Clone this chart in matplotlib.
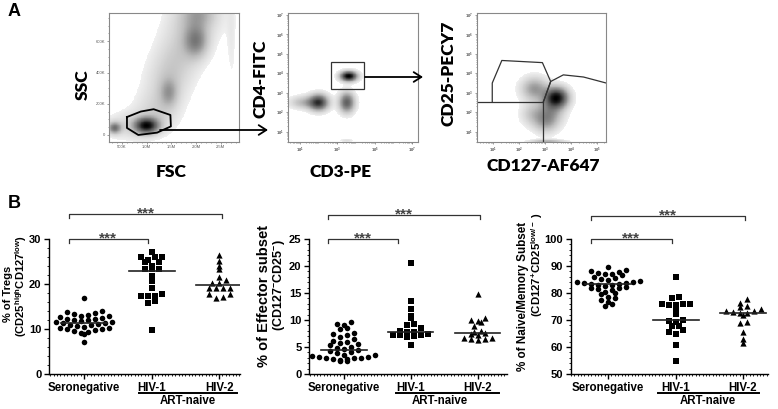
import numpy as np
import matplotlib
matplotlib.use("Agg")
import matplotlib.pyplot as plt
from matplotlib.ticker import FixedLocator, MultipleLocator, NullFormatter, LogLocator
from matplotlib.patches import Rectangle, FancyArrowPatch

plt.rcParams["font.family"] = ["Liberation Sans", "DejaVu Sans"]
plt.rcParams["mathtext.fontset"] = "custom"
plt.rcParams["mathtext.rm"] = "Liberation Sans:bold"
plt.rcParams["mathtext.bf"] = "Liberation Sans:bold"
plt.rcParams["mathtext.it"] = "Liberation Sans:bold"

# ------------------------------------------------------------------ data
groups = ["Seronegative", "HIV-1", "HIV-2"]

tregs_sero = [16.8, 14.0, 13.8, 13.5, 13.3, 13.2, 13.0, 12.8, 12.7, 12.5, 12.3, 12.2,
              12.0, 11.9, 11.8, 11.6, 11.5, 11.4, 11.3, 11.2, 11.0, 10.9, 10.7, 10.5,
              10.3, 10.2, 10.0, 9.9, 9.7, 9.5, 9.3, 9.2, 8.8, 7.2]
tregs_hiv1 = [27.1, 26.0, 25.9, 25.9, 25.3, 24.9, 24.9, 24.1, 23.4, 23.4, 23.4, 21.7,
              20.6, 19.2, 17.7, 17.4, 17.4, 17.4, 16.2, 15.7, 9.8]
tregs_hiv2 = [26.4, 25.1, 24.0, 23.4, 21.5, 20.8, 20.2, 20.2, 19.2, 19.1, 19.1, 19.1,
              17.7, 17.7, 17.1, 16.8]
tregs_median = [11.4, 22.9, 19.7]

eff_sero = [9.6, 9.2, 9.0, 8.5, 8.3, 7.6, 7.5, 7.2, 6.8, 6.5, 6.2, 6.0, 5.8, 5.5, 5.3,
            5.0, 4.8, 4.6, 4.5, 4.3, 4.0, 3.8, 3.6, 3.5, 3.4, 3.2, 3.1, 3.0, 3.0, 2.9,
            2.8, 2.7, 2.6, 2.5, 2.4]
eff_hiv1 = [20.5, 13.5, 12.0, 10.7, 10.3, 9.2, 9.1, 8.6, 8.0, 7.8, 7.8, 7.5, 7.2, 7.2,
            7.2, 7.0, 6.8, 5.4]
eff_hiv2 = [14.8, 10.4, 10.0, 9.8, 9.6, 8.8, 8.0, 7.7, 7.6, 7.5, 7.3, 6.6, 6.6, 6.5,
            6.4, 6.3]
eff_median = [4.5, 7.8, 7.65]

nm_sero = [89.5, 88.5, 88.0, 87.8, 87.5, 87.2, 87.0, 86.5, 86.0, 85.5, 85.2, 85.0,
           84.5, 84.2, 84.0, 83.8, 83.6, 83.5, 83.3, 83.0, 82.8, 82.5, 82.2, 82.0,
           81.8, 81.5, 81.0, 80.5, 80.0, 79.5, 78.5, 78.0, 77.5, 76.5, 75.8, 75.2]
nm_hiv1 = [86.0, 78.4, 78.0, 76.0, 75.8, 75.7, 75.5, 75.8, 73.3, 72.3, 70.1, 69.5,
           69.2, 67.8, 67.9, 66.2, 65.4, 64.8, 60.7, 54.9]
nm_hiv2 = [77.8, 76.4, 75.2, 74.8, 74.2, 73.4, 73.2, 73.0, 72.7, 72.5, 72.0, 69.1,
           69.0, 65.7, 62.8, 61.6]
nm_median = [83.5, 70.1, 72.7]

# flow cytometry density components (panel A)
fsc_ssc_cx = [350, 1000, 1450, 2000, 2050, 700, 1200, 1400, 1600, 1850, 2050, 2720]   # K
fsc_ssc_cy = [45, 60, 270, 600, 780, 60, 150, 330, 480, 650, 780, 620]
fsc_ssc_sx = [90, 160, 120, 160, 220, 350, 300, 300, 300, 330, 350, 70]
fsc_ssc_sy = [25, 33, 60, 70, 60, 60, 90, 110, 110, 120, 100, 220]
fsc_ssc_w = [0.55, 1.0, 0.28, 0.42, 0.2, 0.15, 0.15, 0.15, 0.14, 0.14, 0.14, 0.06]
fsc_gate_x = [600, 880, 1140, 1480, 1490, 1210, 830, 600]
fsc_gate_y = [115, 150, 165, 128, 55, 15, 0, 45]

cd3_cd4_cx = [3.6, 2.0, 1.2, 3.5, 3.5]      # log10
cd3_cd4_cy = [3.85, 2.5, 2.5, 2.5, 0.55]
cd3_cd4_sx = [0.3, 0.35, 0.5, 0.28, 0.25]
cd3_cd4_sy = [0.17, 0.28, 0.22, 0.35, 0.06]
cd3_cd4_w = [1.0, 0.75, 0.25, 0.6, 0.1]
cd4_gate = [2.64, 4.43, 3.19, 4.6]  # log10 x0, x1, y0, y1

cd127_cd25_cx = [3.45, 2.6, 3.2, 3.0, 2.5, 3.1]
cd127_cd25_cy = [2.75, 3.2, 2.0, 1.5, 1.9, 0.5]
cd127_cd25_sx = [0.3, 0.35, 0.35, 0.3, 0.3, 0.45]
cd127_cd25_sy = [0.35, 0.4, 0.5, 0.4, 0.4, 0.07]
cd127_cd25_w = [1.0, 0.4, 0.35, 0.25, 0.2, 0.3]
treg_gate_x = [0.96, 0.96, 1.33, 2.90, 3.22, 2.94]
treg_gate_y = [2.54, 3.50, 4.66, 4.55, 3.58, 2.54]
naive_gate_x = [2.94, 3.22, 3.71, 4.49, 5.37]
naive_gate_y = [2.54, 3.58, 3.92, 3.81, 3.50]
cut_x, cut_y = 2.94, 2.54

# ------------------------------------------------------------------ figure
W, H = 778, 409
fig = plt.figure(figsize=(W / 100, H / 100), dpi=100)


def box(l, t, r, b):
    return [l / W, 1 - b / H, (r - l) / W, (b - t) / H]


def fx(px):
    return px / W


def fy(py):
    return 1 - py / H


def density(gx, gy, cx, cy, sx, sy, w):
    X, Y = np.meshgrid(gx, gy)
    Z = np.zeros_like(X)
    for a, b, c, d, e in zip(cx, cy, sx, sy, w):
        Z += e * np.exp(-((X - a) ** 2 / (2 * c ** 2) + (Y - b) ** 2 / (2 * d ** 2)))
    Z /= Z.max()
    thr = 0.035
    img = np.where(Z > thr, 0.12 + 0.88 * ((Z - thr) / (1 - thr)) ** 0.8, 0.0)
    return np.ma.masked_where(img <= 0, img)


AFONT = ["Lato", "DejaVu Sans"]
tick_kw = dict(labelsize=3, colors="#555555", length=1.5, width=0.4, pad=1)

# ---- A1: FSC / SSC
ax = fig.add_axes(box(109, 13, 239, 142))
gx = np.linspace(236, 2870, 300)
gy = np.linspace(-45, 781, 300)
Z = density(gx, gy, fsc_ssc_cx, fsc_ssc_cy, fsc_ssc_sx, fsc_ssc_sy, fsc_ssc_w)
ax.pcolormesh(gx, gy, Z, cmap="Greys", vmin=0, vmax=1, shading="auto", rasterized=True)
ax.plot(fsc_gate_x + fsc_gate_x[:1], fsc_gate_y + fsc_gate_y[:1], color="black", lw=1.3)
ax.set_xlim(236, 2870)
ax.set_ylim(-45, 781)
ax.set_xticks([500, 1000, 1500, 2000, 2500])
ax.set_xticklabels(["500K", "1.0M", "1.5M", "2.0M", "2.5M"])
ax.set_yticks([0, 200, 400, 600])
ax.set_yticklabels(["0", "200K", "400K", "600K"])
ax.xaxis.set_minor_locator(MultipleLocator(100))
ax.yaxis.set_minor_locator(MultipleLocator(50))
ax.tick_params(which="both", **tick_kw)
ax.tick_params(which="minor", length=1)
for s in ax.spines.values():
    s.set_color("#888888")
    s.set_linewidth(0.8)


def log_axes(rect, xlim, ylim, xlab_dec, ylab_dec):
    a = fig.add_axes(rect)
    a.set_xscale("log")
    a.set_yscale("log")
    a.set_xlim(10 ** xlim[0], 10 ** xlim[1])
    a.set_ylim(10 ** ylim[0], 10 ** ylim[1])
    a.xaxis.set_major_locator(FixedLocator([10.0 ** d for d in xlab_dec]))
    a.yaxis.set_major_locator(FixedLocator([10.0 ** d for d in ylab_dec]))
    a.set_xticklabels(["$10^{%d}$" % d for d in xlab_dec])
    a.set_yticklabels(["$10^{%d}$" % d for d in ylab_dec])
    a.xaxis.set_minor_locator(LogLocator(base=10, subs=np.arange(2, 10), numticks=20))
    a.yaxis.set_minor_locator(LogLocator(base=10, subs=np.arange(2, 10), numticks=20))
    a.xaxis.set_minor_formatter(NullFormatter())
    a.yaxis.set_minor_formatter(NullFormatter())
    a.tick_params(which="both", **tick_kw)
    a.tick_params(which="minor", length=1)
    for s in a.spines.values():
        s.set_color("#888888")
        s.set_linewidth(0.8)
    return a


# ---- A2: CD3 / CD4
ax2 = log_axes(box(288, 13, 418, 142), (0.36, 7.3), (0.47, 7.1), [1, 3, 5, 7], [1, 2, 3, 4, 5, 6, 7])
lx = np.linspace(0.36, 7.3, 300)
ly = np.linspace(0.47, 7.1, 300)
Z = density(lx, ly, cd3_cd4_cx, cd3_cd4_cy, cd3_cd4_sx, cd3_cd4_sy, cd3_cd4_w)
ax2.pcolormesh(10 ** lx, 10 ** ly, Z, cmap="Greys", vmin=0, vmax=1, shading="auto", rasterized=True)
x0, x1, y0, y1 = [10 ** v for v in cd4_gate]
ax2.add_patch(Rectangle((x0, y0), x1 - x0, y1 - y0, fill=False, ec="#333333", lw=0.9))

# ---- A3: CD127 / CD25
ax3 = log_axes(box(477, 13, 606, 142), (0.37, 5.36), (0.47, 7.1), [1, 2, 3, 4, 5], [1, 2, 3, 4, 5, 6, 7])
lx = np.linspace(0.37, 5.36, 300)
Z = density(lx, ly, cd127_cd25_cx, cd127_cd25_cy, cd127_cd25_sx, cd127_cd25_sy, cd127_cd25_w)
ax3.pcolormesh(10 ** lx, 10 ** ly, Z, cmap="Greys", vmin=0, vmax=1, shading="auto", rasterized=True)
gkw = dict(color="#333333", lw=0.9)
ax3.plot(10 ** np.array(treg_gate_x), 10 ** np.array(treg_gate_y), **gkw)
ax3.plot(10 ** np.array(naive_gate_x), 10 ** np.array(naive_gate_y), **gkw)
ax3.plot([10 ** 0.37, 10 ** cut_x], [10 ** cut_y, 10 ** cut_y], **gkw)
ax3.plot([10 ** cut_x, 10 ** cut_x], [10 ** 0.47, 10 ** cut_y], **gkw)

# axis titles panel A
lab_kw = dict(fontsize=12.5, fontweight="heavy", family=AFONT, ha="center", va="center")
fig.text(fx(83), fy(85), "SSC", rotation=90, **lab_kw)
fig.text(fx(171), fy(172), "FSC", **lab_kw)
fig.text(fx(260), fy(79), "CD4-FITC", rotation=90, **lab_kw)
fig.text(fx(341), fy(172), "CD3-PE", **lab_kw)
fig.text(fx(448), fy(73), "CD25-PECY7", rotation=90, **lab_kw)
fig.text(fx(543), fy(166), "CD127-AF647", **lab_kw)

# arrows
arr = dict(arrowstyle="->,head_length=0.55,head_width=0.35", lw=1.3, color="black",
           mutation_scale=10, shrinkA=0, shrinkB=0)
fig.add_artist(FancyArrowPatch((fx(160), fy(130)), (fx(268), fy(130)),
                               transform=fig.transFigure, **arr))
fig.add_artist(FancyArrowPatch((fx(365), fy(77)), (fx(423), fy(77)),
                               transform=fig.transFigure, **arr))

# panel letters
fig.text(fx(14), fy(11), "A", fontsize=13, fontweight="bold", ha="center", va="center")
fig.text(fx(14), fy(203), "B", fontsize=13, fontweight="bold", ha="center", va="center")

# ------------------------------------------------------------------ panel B
def column_scatter(values, ppx, ppy, step=7.0, row_h=5.5):
    """GraphPad-like column scatter: bin values into rows, spread each row symmetrically."""
    v = np.asarray(values, float)
    rows = np.round(v * ppy / row_h).astype(int)
    off = np.zeros(len(v))
    for r in np.unique(rows):
        idx = np.where(rows == r)[0]
        idx = idx[np.argsort(v[idx])]
        n = len(idx)
        pos = (np.arange(n) - (n - 1) / 2.0) * step
        order = np.argsort(np.abs(pos), kind="stable")
        for j, ii in enumerate(idx):
            off[ii] = pos[order[j]] / ppx
    return off


markers = ["o", "s", "^"]
msizes = [16, 16, 20]

panels = [
    dict(rect=box(49, 239, 240, 374), data=[tregs_sero, tregs_hiv1, tregs_hiv2], med=tregs_median,
         xlim=(-0.52, 2.31), ylim=(0, 30), yt=[0, 10, 20, 30], ymin=2,
         br1=(-0.22, 0.94, 30), br2=(-0.22, 2.04, 35.55), tick=0.9,
         l1="% of Tregs", l2=r"(CD25$^{\mathrm{high}}$CD127$^{\mathrm{low}}$)",
         l1x=8, l2x=21, l1y=294, l2y=286, fs1=8.0, fs2=8.0),
    dict(rect=box(309, 239, 507, 374), data=[eff_sero, eff_hiv1, eff_hiv2], med=eff_median,
         xlim=(-0.52, 2.44), ylim=(0, 25), yt=[0, 5, 10, 15, 20, 25], ymin=1,
         br1=(-0.24, 0.81, 25), br2=(-0.24, 2.03, 29.5), tick=0.75,
         l1="% of Effector subset", l2=r"(CD127$^{-}$CD25$^{-}$)",
         l1x=264, l2x=280, l1y=296, l2y=285, fs1=10.5, fs2=9.0),
    dict(rect=box(571, 239, 768, 374), data=[nm_sero, nm_hiv1, nm_hiv2], med=nm_median,
         xlim=(-0.55, 2.37), ylim=(50, 100), yt=[50, 60, 70, 80, 90, 100], ymin=2,
         br1=(-0.25, 0.94, 100), br2=(-0.25, 2.03, 108.6), tick=1.5,
         l1="% of Naive/Memory Subset", l2=r"(CD127$^{+}$CD25$^{\mathrm{low/-}}$ )",
         l1x=523, l2x=537, l1y=296, l2y=265, fs1=8.4, fs2=8.2),
]
# ART-naive underline spans in pixels for each panel
art_px = [(139, 237), (396, 499), (658, 759)]
art_txt_px = [188, 440, 708]

for k, p in enumerate(panels):
    ax = fig.add_axes(p["rect"])
    l, b, w, h = p["rect"]
    ppx = w * W / (p["xlim"][1] - p["xlim"][0])
    ppy = h * H / (p["ylim"][1] - p["ylim"][0])
    for i, vals in enumerate(p["data"]):
        off = column_scatter(vals, ppx, ppy)
        ax.scatter(i + off, vals, marker=markers[i], s=msizes[i], color="black", lw=0,
                   zorder=3, clip_on=False)
        ax.plot([i - 0.34, i + 0.34], [p["med"][i]] * 2, color="#222222", lw=1.2, zorder=4)
    ax.set_xlim(*p["xlim"])
    ax.set_ylim(*p["ylim"])
    ax.set_xticks([0, 1, 2])
    ax.set_xticklabels(groups)
    ax.set_yticks(p["yt"])
    ax.yaxis.set_minor_locator(MultipleLocator(p["ymin"]))
    ax.xaxis.set_minor_locator(MultipleLocator(0.05))
    for s in ["top", "right"]:
        ax.spines[s].set_visible(False)
    for s in ["left", "bottom"]:
        ax.spines[s].set_linewidth(1.0)
    ax.tick_params(axis="both", which="major", length=3.5, width=1.0, labelsize=8, pad=2)
    ax.tick_params(axis="both", which="minor", length=1.5, width=0.6)
    ax.tick_params(axis="x", which="major", labelsize=8.3, pad=2)
    for t in ax.get_xticklabels() + ax.get_yticklabels():
        t.set_fontweight("bold")
    # brackets
    for (a, bb, yv) in [p["br1"], p["br2"]]:
        ax.plot([a, a, bb, bb], [yv - p["tick"], yv, yv, yv - p["tick"]], color="#333333",
                lw=0.9, clip_on=False)
        ax.text((a + bb) / 2, yv - p["tick"] * 0.9, "***", ha="center", va="baseline",
                fontsize=11, fontweight="bold", color="#444444")
    # ART-naive
    x0p, x1p = art_px[k]
    fig.add_artist(plt.Line2D([fx(x0p), fx(x1p)], [fy(392.5)] * 2, transform=fig.transFigure,
                              color="black", lw=1.4))
    fig.text(fx(art_txt_px[k]), fy(401), "ART-naive", ha="center", va="center", fontsize=8.3,
             fontweight="bold")
    # y labels
    fig.text(fx(p["l1x"]), fy(p["l1y"]), p["l1"], rotation=90, ha="center", va="center",
             fontsize=p["fs1"], fontweight="bold")
    fig.text(fx(p["l2x"]), fy(p["l2y"]), p["l2"], rotation=90, ha="center", va="center",
             fontsize=p["fs2"], fontweight="bold")

fig.savefig("out.png", dpi=100)
